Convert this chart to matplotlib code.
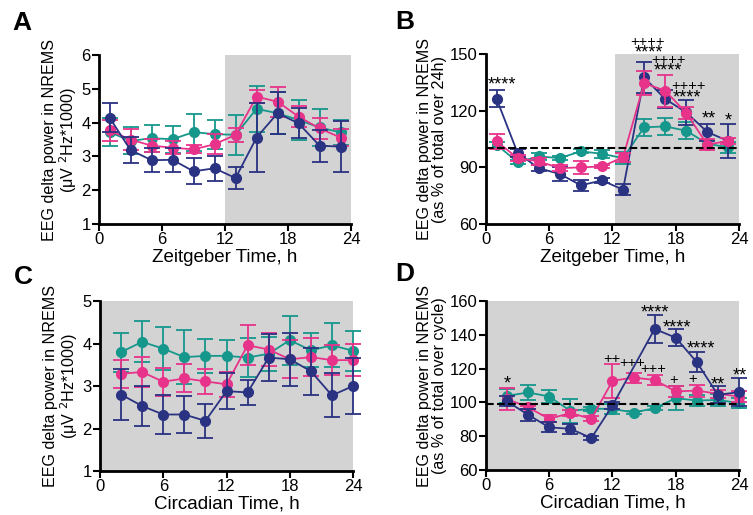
import matplotlib
matplotlib.use("Agg")
import matplotlib.pyplot as plt
import numpy as np

plt.rcParams["font.family"] = ["Liberation Sans", "DejaVu Sans"]

NAVY = "#2a3282"
PINK = "#e8338a"
TEAL = "#16978c"
GRAY = "#d3d3d3"

# panel A: ZT, absolute delta power
zt = [1, 3, 5, 7, 9, 11, 13, 15, 17, 19, 21, 23]
a_navy = [4.15, 3.19, 2.89, 2.90, 2.56, 2.65, 2.36, 3.56, 4.28, 3.98, 3.32, 3.29]
a_navy_err = [0.42, 0.39, 0.36, 0.36, 0.39, 0.37, 0.32, 1.02, 0.62, 0.44, 0.47, 0.75]
a_pink = [3.77, 3.50, 3.32, 3.26, 3.21, 3.36, 3.64, 4.77, 4.62, 4.18, 3.83, 3.56]
a_pink_err = [0.30, 0.30, 0.20, 0.20, 0.12, 0.30, 0.20, 0.20, 0.45, 0.30, 0.30, 0.25]
a_teal = [3.72, 3.46, 3.54, 3.51, 3.72, 3.66, 3.64, 4.41, 4.28, 4.08, 3.86, 3.71]
a_teal_err = [0.42, 0.40, 0.40, 0.40, 0.55, 0.43, 0.60, 0.68, 0.62, 0.60, 0.55, 0.38]

# panel B: ZT, % of total over 24h
b_navy = [126.4, 97.6, 89.6, 86.5, 80.5, 83.1, 78.2, 137.6, 126.2, 119.1, 108.7, 103.9]
b_navy_err = [4.5, 2.0, 1.5, 3.5, 3.0, 1.5, 3.0, 8.0, 5.0, 6.5, 4.5, 9.0]
b_pink = [103.8, 94.9, 93.2, 89.6, 90.0, 90.5, 95.3, 134.6, 130.6, 118.8, 102.0, 104.1]
b_pink_err = [4.0, 1.5, 2.0, 1.5, 3.5, 1.0, 2.5, 6.5, 8.5, 3.0, 3.0, 1.5]
b_teal = [102.0, 92.8, 95.8, 94.9, 98.5, 97.2, 94.9, 111.2, 111.7, 109.4, 102.5, 100.6]
b_teal_err = [1.5, 1.0, 2.0, 1.0, 1.0, 2.0, 3.0, 4.5, 4.5, 4.5, 2.0, 3.0]
b_stars = [(1.5, 133.5, "****"), (15.5, 150.5, "****"), (17.3, 141, "****"),
           (19.1, 127, "****"), (21.1, 115.5, "**"), (23.0, 114.5, "*")]
b_plus = [(15.3, 156.5, "++++"), (17.3, 147, "++++"), (19.2, 133, "++++")]

# panel C: CT, absolute delta power
ct = [2, 4, 6, 8, 10, 12, 14, 16, 18, 20, 22, 24]
c_navy = [2.80, 2.53, 2.33, 2.33, 2.18, 2.88, 2.85, 3.67, 3.63, 3.35, 2.78, 3.00]
c_navy_err = [0.60, 0.48, 0.45, 0.43, 0.40, 0.43, 0.30, 0.55, 0.62, 0.55, 0.52, 0.65]
c_pink = [3.29, 3.33, 3.10, 3.18, 3.11, 3.04, 3.96, 3.86, 3.63, 3.68, 3.61, 3.61]
c_pink_err = [0.33, 0.35, 0.33, 0.33, 0.30, 0.30, 0.47, 0.40, 0.45, 0.45, 0.35, 0.37]
c_teal = [3.80, 4.04, 3.88, 3.68, 3.71, 3.71, 3.67, 3.76, 4.08, 3.84, 3.96, 3.83]
c_teal_err = [0.46, 0.48, 0.50, 0.63, 0.40, 0.37, 0.45, 0.40, 0.58, 0.40, 0.52, 0.47]

# panel D: CT, % of total over cycle (navy has no CT14 point)
d_navy_ct = [2, 4, 6, 8, 10, 12, 16, 18, 20, 22, 24]
d_navy = [100.6, 92.7, 85.2, 84.4, 78.9, 98.2, 143.5, 138.3, 123.8, 104.5, 106.1]
d_navy_err = [3.0, 3.5, 3.0, 3.0, 1.0, 2.0, 8.5, 5.0, 6.0, 5.0, 8.5]
d_pink = [102.1, 97.0, 90.3, 93.7, 90.3, 112.8, 114.7, 113.3, 106.5, 107.0, 105.1, 103.5]
d_pink_err = [6.5, 1.0, 2.0, 2.0, 1.5, 10.0, 3.0, 3.0, 3.5, 3.5, 2.5, 3.5]
d_teal = [103.9, 105.9, 103.5, 95.0, 96.2, 96.2, 94.0, 96.6, 102.5, 101.1, 101.5, 99.6]
d_teal_err = [4.0, 4.5, 4.0, 7.0, 1.0, 3.0, 1.0, 1.0, 7.0, 3.0, 3.5, 3.0]
d_stars = [(2.0, 111, "*"), (16.0, 153, "****"), (18.1, 144, "****"),
           (20.4, 131.5, "****"), (22.0, 110.5, "**"), (24.1, 115.5, "**")]
d_plus = [(11.9, 126, "++"), (13.9, 123.5, "+++"), (15.9, 120, "+++"),
          (17.8, 113, "+"), (19.6, 114, "+")]

fig = plt.figure(figsize=(7.53, 5.15), dpi=100)

ax_a = fig.add_axes([0.1315, 0.565, 0.3347, 0.328])
ax_b = fig.add_axes([0.6454, 0.565, 0.336, 0.330])
ax_c = fig.add_axes([0.1328, 0.0854, 0.336, 0.330])
ax_d = fig.add_axes([0.6454, 0.0874, 0.336, 0.328])


def draw_series(ax, x, y, err, color, z):
    ax.errorbar(x, y, yerr=err, color=color, marker="o", markersize=7,
                linewidth=1.3, elinewidth=1.3, capsize=6, capthick=1.3,
                zorder=z, clip_on=False)


def style_axis(ax, ylim, yticks, xlabel, ylabel, letter, letter_xy, shade_from):
    ax.axvspan(shade_from, 24, color=GRAY, zorder=0, lw=0)
    ax.set_xlim(0, 24)
    ax.set_ylim(*ylim)
    ax.set_xticks([0, 6, 12, 18, 24])
    ax.set_yticks(yticks)
    for s in ["top", "right"]:
        ax.spines[s].set_visible(False)
    for s in ["left", "bottom"]:
        ax.spines[s].set_linewidth(2)
    ax.tick_params(width=1.5, length=5, labelsize=12, pad=1)
    ax.set_xlabel(xlabel, fontsize=13.5, labelpad=1)
    ax.set_ylabel(ylabel, fontsize=11.6, labelpad=2, linespacing=1.0)
    ax.text(letter_xy[0], letter_xy[1], letter, transform=ax.transAxes, fontsize=19,
            fontweight="bold", va="top", ha="left")


def annotate(ax, stars, plus):
    for x, y, s in stars:
        ax.text(x, y, s, ha="center", va="center", fontsize=13, clip_on=False)
    for x, y, s in plus:
        ax.text(x, y, s, ha="center", va="center", fontsize=10.5, clip_on=False)


series_a = [(a_teal, a_teal_err, TEAL), (a_pink, a_pink_err, PINK), (a_navy, a_navy_err, NAVY)]
for i, (y, e, c) in enumerate(series_a):
    draw_series(ax_a, zt, y, e, c, 3 + i)
style_axis(ax_a, (1, 6), [1, 2, 3, 4, 5, 6], "Zeitgeber Time, h",
           "EEG delta power in NREMS\n(μV $^{2}$Hz*1000)", "A", (-0.345, 1.26), 12)

series_b = [(b_teal, b_teal_err, TEAL), (b_navy, b_navy_err, NAVY), (b_pink, b_pink_err, PINK)]
for i, (y, e, c) in enumerate(series_b):
    draw_series(ax_b, zt, y, e, c, 3 + i)
ax_b.axhline(100, color="black", linestyle="--", linewidth=1.5, zorder=6)
style_axis(ax_b, (60, 150), [60, 90, 120, 150], "Zeitgeber Time, h",
           "EEG delta power in NREMS\n(as % of total over 24h)", "B", (-0.36, 1.26), 12.2)
annotate(ax_b, b_stars, b_plus)

series_c = [(c_teal, c_teal_err, TEAL), (c_pink, c_pink_err, PINK), (c_navy, c_navy_err, NAVY)]
for i, (y, e, c) in enumerate(series_c):
    draw_series(ax_c, ct, y, e, c, 3 + i)
style_axis(ax_c, (1, 5), [1, 2, 3, 4, 5], "Circadian Time, h",
           "EEG delta power in NREMS\n(μV $^{2}$Hz*1000)", "C", (-0.34, 1.21), 0)

draw_series(ax_d, ct, d_teal, d_teal_err, TEAL, 3)
draw_series(ax_d, ct, d_pink, d_pink_err, PINK, 4)
draw_series(ax_d, d_navy_ct, d_navy, d_navy_err, NAVY, 5)
ax_d.axhline(99, color="black", linestyle="--", linewidth=1.5, zorder=6)
style_axis(ax_d, (60, 160), [60, 80, 100, 120, 140, 160], "Circadian Time, h",
           "EEG delta power in NREMS\n(as % of total over cycle)", "D", (-0.36, 1.23), 0)
annotate(ax_d, d_stars, d_plus)

fig.savefig("out.png", dpi=100)
